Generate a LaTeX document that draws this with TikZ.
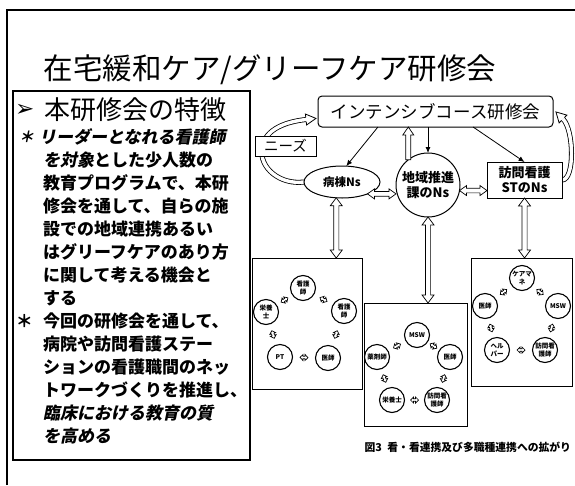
\documentclass[tikz,border=0pt]{standalone}
\usepackage{fontspec}
\setmainfont{Noto Sans CJK JP}
\newfontfamily\jpsl[FakeSlant=0.2]{Noto Sans CJK JP}
\newfontfamily\dvs{DejaVu Sans}
\usetikzlibrary{calc,shapes.geometric,arrows.meta}
\pgfdeclarelayer{bg}
\pgfsetlayers{bg,main}
% hollow double-headed block arrow
\newcommand\hdbl[5]{%
  \coordinate (hA) at (#1);
  \coordinate (hB) at (#2);
  \coordinate (hA1) at ($(hA)!#3!(hB)$);
  \coordinate (hB1) at ($(hB)!#3!(hA)$);
  \draw[hollow] (hA) -- ($(hA1)!#4!90:(hB)$) -- ($(hA1)!#5!90:(hB)$)
    -- ($(hB1)!#5!-90:(hA)$) -- ($(hB1)!#4!-90:(hA)$) -- (hB)
    -- ($(hB1)!#4!90:(hA)$) -- ($(hB1)!#5!90:(hA)$)
    -- ($(hA1)!#5!-90:(hB)$) -- ($(hA1)!#4!-90:(hB)$) -- cycle;}
% hollow single-headed block arrow
\newcommand\hsgl[5]{%
  \coordinate (hA) at (#1);
  \coordinate (hB) at (#2);
  \coordinate (hB1) at ($(hB)!#3!(hA)$);
  \draw[hollow] ($(hA)!#5!90:(hB)$) -- ($(hB1)!#5!-90:(hA)$) -- ($(hB1)!#4!-90:(hA)$) -- (hB)
    -- ($(hB1)!#4!90:(hA)$) -- ($(hB1)!#5!90:(hA)$) -- ($(hA)!#5!-90:(hB)$) -- cycle;}
% tiny connector between two circles
\newcommand\mini[2]{%
  \coordinate (mM) at ($(#1)!0.5!(#2)$);
  \hdbl{$(mM)!4pt!(#1)$}{$(mM)!4pt!(#2)$}{3pt}{3pt}{1.3pt}}
% hollow head at the end of a double curve
\newcommand\hhead[2]{%
  \coordinate (hT) at ($(#2)!10pt!180:(#1)$);
  \fill[white] ($(#2)!5.5pt!90:(hT)$) -- (hT) -- ($(#2)!5.5pt!-90:(hT)$) -- cycle;
  \draw[line width=0.8pt,line join=miter] ($(#2)!2.1pt!90:(hT)$) -- ($(#2)!5.5pt!90:(hT)$) -- (hT) -- ($(#2)!5.5pt!-90:(hT)$) -- ($(#2)!2.1pt!-90:(hT)$);}
\begin{document}
\begin{tikzpicture}[x=1pt,y=-1pt,
  every node/.style={inner sep=0pt,outer sep=0pt},
  body/.style={anchor=west,font=\fontsize{17}{20}\selectfont\bfseries},
  topbox/.style={draw,line width=1pt,rounded corners=4pt,fill=white,minimum width=235pt,minimum height=31pt,font=\fontsize{17.5}{18}\selectfont},
  needsbox/.style={draw,line width=1pt,fill=white,minimum width=61pt,minimum height=20pt,font=\fontsize{14.5}{15}\selectfont},
  ellnode/.style={ellipse,draw,line width=1pt,fill=white,minimum width=76pt,minimum height=32pt,font=\fontsize{11.5}{12}\selectfont\bfseries},
  circnode/.style={circle,draw,line width=1pt,fill=white,minimum size=64pt,align=center,font=\fontsize{13}{15}\selectfont\bfseries},
  stbox/.style={draw,line width=1pt,fill=white,minimum width=75pt,minimum height=36pt,align=center,font=\fontsize{13}{15}\selectfont\bfseries},
  lbox/.style={draw,line width=0.8pt,fill=white},
  pc/.style={circle,draw,line width=1.1pt,fill=white,minimum size=25pt,align=center,font=\fontsize{6.5}{7.5}\selectfont\bfseries},
  hollow/.style={draw,line width=0.7pt,fill=white,line join=miter},
  dblline/.style={draw,line width=0.8pt,double=white,double distance=3.4pt},
  thinarr/.style={line width=0.8pt,-{Latex[length=6pt,width=5pt]}}
]
\useasboundingbox (0,0) rectangle (575,485);
% slide frame
\draw[line width=1.2pt] (7,485) -- (7,10) -- (575,10);
% title
\node[font=\fontsize{29.5}{32}\selectfont] (title) at (270,70) {在宅緩和ケア/グリーフケア研修会};
% left text box
\node[draw,line width=1.6pt,minimum width=237pt,minimum height=369pt,anchor=north west] (tbox) at (13,91) {};
\node[anchor=west,font=\dvs\fontsize{23}{24}\selectfont\bfseries] (harr) at (15,110) {➢};
\node[anchor=west,font=\fontsize{26}{28}\selectfont] (head) at (44,110) {本研修会の特徴};
\node[anchor=west,font=\jpsl\fontsize{15}{16}\selectfont\bfseries] (s1) at (19,137) {＊};
\node[body,font=\jpsl\fontsize{17}{20}\selectfont\bfseries] (l1) at (39,137) {リーダーとなれる看護師};
\node[body] (l2) at (43,160) {{\jpsl\bfseries を対象}とした少人数の};
\node[body] (l3) at (43,183) {教育プログラムで、本研};
\node[body] (l4) at (43,206) {修会を通して、自らの施};
\node[body] (l5) at (43,229) {設での地域連携あるい};
\node[body] (l6) at (43,252) {はグリーフケアのあり方};
\node[body] (l7) at (43,275) {に関して考える機会と};
\node[body] (l8) at (43,298) {する};
\node[body] (s2) at (16,321) {＊};
\node[body] (l9) at (43,321) {今回の研修会を通して、};
\node[body] (l10) at (43,344) {病院や訪問看護ステー};
\node[body] (l11) at (43,367) {ションの看護職間のネッ};
\node[body] (l12) at (43,390) {トワークづくりを推進し、};
\node[body,font=\jpsl\fontsize{17}{20}\selectfont\bfseries] (l13) at (43,413) {臨床における教育の質};
\node[body,font=\jpsl\fontsize{17}{20}\selectfont\bfseries] (l14) at (43,436) {を高める};
% upper diagram
\node[topbox] (top) at (435.5,111.5) {インテンシブコース研修会};
\node[needsbox] (needs) at (285.5,146) {ニーズ};
\node[ellnode] (ell) at (342,182) {病棟Ns};
\node[circnode] (circ) at (428,185) {地域推進\\課のNs};
\node[stbox] (hb) at (524.5,180) {訪問看護\\STのNs};
% feedback loops (behind)
\coordinate (lc2) at (288,121.5);
\coordinate (lbase) at ($(top.south west)+(-12,-7.5)$);
\coordinate (rc2) at (574,130);
\coordinate (rbase) at ($(top.south east)+(10,-8)$);
\begin{pgfonlayer}{bg}
\draw[dblline] (ell.west) .. controls (280,185) and (259,168) .. (262,148) .. controls (265,128) and (lc2) .. (lbase);
\hhead{lc2}{lbase}
\draw[dblline] (hb.east) .. controls (575,180) and (rc2) .. (rbase);
\hhead{rc2}{rbase}
\end{pgfonlayer}
% thin arrows
\draw[thinarr] ($(top.south west)!0.255!(top.south east)$) -- (ell.75);
\draw[thinarr] (top.south -| circ.north) -- (circ.north);
\draw[thinarr] ($(top.south west)!0.66!(top.south east)$) -- (hb.north);
% hollow arrows
\hsgl{circ.128}{circ.128 |- top.south}{8pt}{5.5pt}{2.5pt}
\hdbl{ell.-25}{ell.-25 -| circ.west}{7pt}{5pt}{2.3pt}
\hdbl{circ.-10}{circ.-10 -| hb.west}{7pt}{5pt}{2.3pt}
% lower boxes
\node[lbox,minimum width=110pt,minimum height=131pt] (b1) at (307,323.5) {};
\node[lbox,minimum width=103pt,minimum height=123pt] (b2) at (415.5,364.5) {};
\node[lbox,minimum width=101pt,minimum height=128pt] (b3) at (521.5,322) {};
\hdbl{ell.-110}{ell.-110 |- b1.north}{8pt}{6pt}{2.6pt}
\hdbl{circ.south}{circ.south |- b2.north}{8pt}{6pt}{2.6pt}
\hdbl{hb.south}{hb.south |- b3.north}{8pt}{6pt}{2.6pt}
% box 1
\node[pc] (c11) at (303,288) {看護\\師};
\node[pc] (c12) at (344,311) {看護\\師};
\node[pc] (c13) at (328,358) {医師};
\node[pc] (c14) at (280,357) {PT};
\node[pc] (c15) at (266,312) {栄養\\士};
\mini{c11}{c12}\mini{c12}{c13}\mini{c13}{c14}\mini{c14}{c15}\mini{c15}{c11}
% box 2
\node[pc] (c21) at (417,335) {MSW};
\node[pc] (c22) at (450,357) {医師};
\node[pc] (c23) at (437,400) {訪問看\\護師};
\node[pc] (c24) at (392,400) {栄養士};
\node[pc] (c25) at (377,357) {薬剤師};
\mini{c21}{c22}\mini{c22}{c23}\mini{c23}{c24}\mini{c24}{c25}\mini{c25}{c21}
% box 3
\node[pc] (c31) at (522,278) {ケアマ\\ネ};
\node[pc] (c32) at (558,306) {MSW};
\node[pc] (c33) at (545,350) {訪問看\\護師};
\node[pc] (c34) at (497,350) {ヘル\\パー};
\node[pc] (c35) at (485,306) {医師};
\mini{c31}{c32}\mini{c32}{c33}\mini{c33}{c34}\mini{c34}{c35}\mini{c35}{c31}
% caption
\node[anchor=east,font=\fontsize{10.8}{12}\selectfont\bfseries] (cap) at (571,447) {図3\hspace{0.5em}看・看連携及び多職種連携への拡がり};
\end{tikzpicture}
\end{document}
